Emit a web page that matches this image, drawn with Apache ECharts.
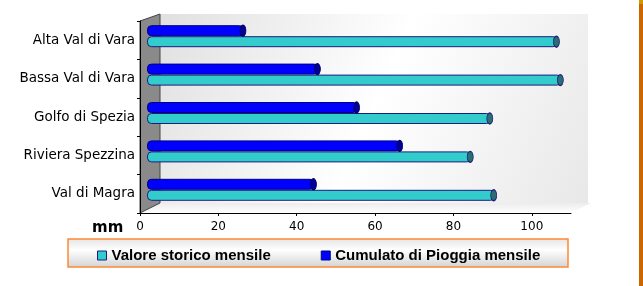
<!DOCTYPE html>
<html>
<head>
<meta charset="utf-8">
<script src="https://cdn.jsdelivr.net/npm/echarts@6/dist/echarts.min.js"></script>
<style>
html,body{margin:0;padding:0;background:#fff;}
#chart{width:643px;height:286px;}
</style>
</head>
<body>
<div id="chart"></div>
<script>
var zone = ['Alta Val di Vara', 'Bassa Val di Vara', 'Golfo di Spezia', 'Riviera Spezzina', 'Val di Magra'];
var storico = [105, 106, 88, 83, 89];
var cumulato = [25, 44, 54, 65, 43];
var xTicks = [0, 20, 40, 60, 80, 100];

var chart = echarts.init(document.getElementById('chart'));

function caps(arr) {
    return arr.map(function (v, i) { return [v, zone[i]]; });
}

var option = {
    animation: false,
    backgroundColor: '#fff',
    grid: [
        {left: 140, top: 21, width: 431, height: 192},
        {left: 147, top: 17, width: 431, height: 192}
    ],
    xAxis: [
        {
            gridIndex: 0, type: 'value', min: 0, max: 110, interval: 20,
            axisLine: {show: true, lineStyle: {color: '#000', width: 1}},
            axisTick: {show: true, length: 3, customValues: xTicks, lineStyle: {color: '#000'}},
            splitLine: {show: false},
            axisLabel: {
                color: '#000', fontFamily: 'DejaVu Sans', fontSize: 12, margin: 8,
                customValues: xTicks
            }
        },
        {gridIndex: 1, type: 'value', min: 0, max: 110, show: false}
    ],
    yAxis: [
        {
            gridIndex: 0, type: 'category', data: zone, inverse: true,
            axisLine: {show: true, lineStyle: {color: '#000', width: 1}},
            axisTick: {show: true, length: 3, lineStyle: {color: '#000'}},
            axisLabel: {color: '#000', fontFamily: 'DejaVu Sans', fontSize: 13.5, margin: 5}
        },
        {gridIndex: 1, type: 'category', data: zone, inverse: true, show: false}
    ],
    legend: {
        left: 92, top: 243, itemWidth: 9, itemHeight: 9, itemGap: 50,
        textStyle: {fontFamily: 'Liberation Sans', fontWeight: 'bold', fontSize: 15, color: '#000'},
        data: [
            {name: 'Valore storico mensile', icon: 'rect', itemStyle: {color: '#33CCCC', borderColor: '#1C1C80', borderWidth: 1}},
            {name: 'Cumulato di Pioggia mensile', icon: 'rect', itemStyle: {color: '#0000FF', borderColor: '#000080', borderWidth: 1}}
        ]
    },
    graphic: [
        // legend frame
        {type: 'rect', z: -1, shape: {x: 68, y: 239, width: 500, height: 28},
            style: {fill: new echarts.graphic.LinearGradient(0, 0, 0, 1, [
                {offset: 0, color: '#e4e4e4'}, {offset: 0.4, color: '#ffffff'}, {offset: 1, color: '#d2d2d2'}]),
                stroke: '#FF8833', lineWidth: 1.5}},
        // back wall
        {type: 'rect', z: -2, shape: {x: 160, y: 14, width: 428, height: 189},
            style: {fill: new echarts.graphic.LinearGradient(0, 0, 1, 1, [
                {offset: 0, color: '#e0e0e0'}, {offset: 0.5, color: '#ffffff'}, {offset: 1, color: '#e8e8e8'}])}},
        // floor
        {type: 'polygon', z: -2, shape: {points: [[140, 213], [571, 213], [591, 203], [160, 203]]},
            style: {fill: new echarts.graphic.LinearGradient(0, 0, 0, 1, [
                {offset: 0, color: '#ececec'}, {offset: 1, color: '#ffffff'}])}},
        // left wall
        {type: 'polygon', z: -1, shape: {points: [[140, 21], [160, 14], [160, 203], [140, 213]]},
            style: {fill: '#8a8a8a', stroke: '#444', lineWidth: 1}},
        // unit
        {type: 'text', left: 92, top: 221,
            style: {text: 'mm', fontFamily: 'DejaVu Sans', fontWeight: 'bold', fontSize: 15, fill: '#000'}},
        // orange margin line
        {type: 'rect', shape: {x: 639, y: 4, width: 4, height: 282}, style: {fill: '#CC6600'}},
        {type: 'rect', shape: {x: 639, y: 0, width: 4, height: 4}, style: {fill: '#CC9900'}}
    ],
    series: [
        {
            name: 'Cumulato di Pioggia mensile', type: 'bar', xAxisIndex: 1, yAxisIndex: 1,
            data: cumulato, barWidth: 11, barGap: '0%',
            itemStyle: {color: '#0000FF', borderColor: '#000080', borderWidth: 1, borderRadius: [4, 5, 5, 4]}
        },
        {
            name: 'Valore storico mensile', type: 'bar', xAxisIndex: 1, yAxisIndex: 1,
            data: storico, barWidth: 11, barGap: '0%',
            itemStyle: {color: '#33CCCC', borderColor: '#1C1C80', borderWidth: 1, borderRadius: [4, 5, 5, 4]}
        },
        {
            name: 'capCumulato', type: 'scatter', xAxisIndex: 1, yAxisIndex: 1,
            data: caps(cumulato), symbol: 'circle', symbolSize: [6, 11], symbolOffset: [-2, -5.5], z: 3,
            itemStyle: {color: '#000099', borderColor: '#000060', borderWidth: 1, opacity: 1}
        },
        {
            name: 'capStorico', type: 'scatter', xAxisIndex: 1, yAxisIndex: 1,
            data: caps(storico), symbol: 'circle', symbolSize: [6, 11], symbolOffset: [-2, 5.5], z: 3,
            itemStyle: {color: '#2A6E6E', borderColor: '#1C1C80', borderWidth: 1, opacity: 1}
        }
    ]
};

chart.setOption(option);
</script>
</body>
</html>
